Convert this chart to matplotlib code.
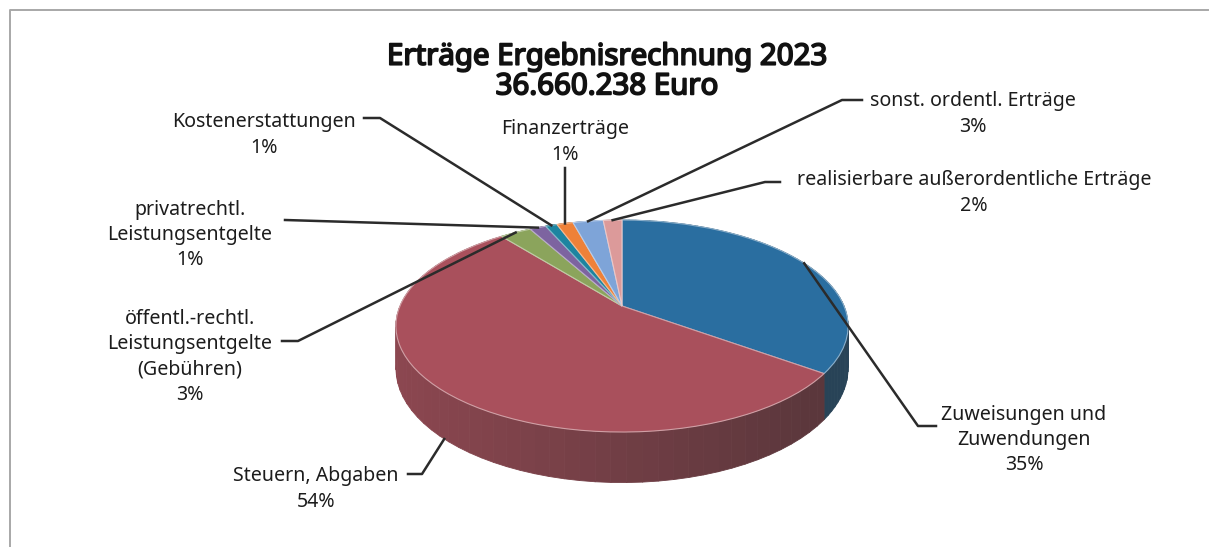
import numpy as np
import matplotlib
matplotlib.use("Agg")
import matplotlib.pyplot as plt
import matplotlib.patheffects as pe
from matplotlib.collections import PolyCollection
from matplotlib.colors import to_rgb
from matplotlib.transforms import Transform

# clockwise from 12 o'clock (legend text rounds them)
names = [
    "Zuweisungen und\nZuwendungen",
    "Steuern, Abgaben",
    "öffentl.-rechtl.\nLeistungsentgelte\n(Gebühren)",
    "privatrechtl.\nLeistungsentgelte",
    "Kostenerstattungen",
    "Finanzerträge",
    "sonst. ordentl. Erträge",
    "realisierbare außerordentliche Erträge",
]
values = [35.0, 54.3, 2.7, 1.4, 1.0, 1.4, 2.6, 1.6]
colors = ["#2a6ea0", "#a9505c", "#8ba45c", "#7d64a0", "#1d84a0", "#ee8139", "#7ea4d8", "#dc9a9a"]
title_lines = "Erträge Ergebnisrechnung 2023\n36.660.238 Euro"

# label centre, then the knee of its leader line and where the line leaves the text
label_pos = [(1024, 440), (316, 489), (190, 357), (190, 235), (264, 135), (565, 142), (973, 114), (974, 193)]
leader_start = [(936, 426), (408, 474), (282, 341), (285, 220), (364, 118), (565, 168), (862, 100), (780, 182)]
leader_knee = [(918, 426), (422, 474), (298, 341), None, (380, 118), None, (842, 100), (765, 182)]

# pie geometry in pixels, tilted disc with a little perspective
CX, CY = 622, 306
RX, RY, PERSP = 222.0, 102.2, 0.189
DEPTH = 41.0


def project(x, y):
    w = 1 + PERSP * y
    return CX + RX * x / w, CY - RY * y / w


class TiltedDisc(Transform):
    input_dims = 2
    output_dims = 2

    def transform_non_affine(self, values):
        values = np.asarray(values, dtype=float)
        px, py = project(values[:, 0], values[:, 1])
        return np.column_stack([px, py])


def shade(rgb, s):
    return tuple(c * s + 0.15 * (1 - s) for c in rgb)


plt.rcParams["font.family"] = ["Noto Sans", "DejaVu Sans"]

fig = plt.figure(figsize=(12.2, 5.47), dpi=100)
ax = fig.add_axes([0, 0, 1, 1])

wedges, _ = ax.pie(values, colors=colors, startangle=90, counterclock=False, frame=True)
ax.set_aspect("auto")
ax.set_xlim(0, 1220)
ax.set_ylim(547, 0)
ax.axis("off")

disc = TiltedDisc() + ax.transData
for w, c in zip(wedges, colors):
    w.set_transform(disc)
    w.set_zorder(3)
    w.set_edgecolor(tuple(0.55 * v + 0.45 for v in to_rgb(c)))
    w.set_linewidth(0.8)

# side wall of the cake, one thin quad per step so it can darken to the right
fractions = np.cumsum([0] + values) / sum(values)
for i, c in enumerate(colors):
    th = np.radians(np.linspace(fractions[i], fractions[i + 1], 60) * 360)
    x, y = np.sin(th), np.cos(th)
    tx, ty = project(x, y)
    by = ty + DEPTH / (1 + PERSP * y)
    quads = [
        [(tx[j], ty[j]), (tx[j + 1], ty[j + 1]), (tx[j + 1], by[j + 1]), (tx[j], by[j])]
        for j in range(len(th) - 1)
    ]
    s = np.interp(tx[:-1], [395, 620, 822], [0.78, 0.58, 0.4])
    cols = [shade(to_rgb(c), v) for v in s]
    ax.add_collection(PolyCollection(quads, facecolors=cols, edgecolors=cols, linewidths=0.6, zorder=2))

# leaders end on the rim at the middle of their slice, front slices on the wall's lower edge
for i in range(len(values)):
    mid = np.radians((fractions[i] + fractions[i + 1]) / 2 * 360)
    ex, ey = project(np.sin(mid), np.cos(mid))
    if np.cos(mid) < -0.5:
        ey += DEPTH / (1 + PERSP * np.cos(mid))
    pts = [leader_start[i]]
    if leader_knee[i] is not None:
        pts.append(leader_knee[i])
    pts.append((ex, ey))
    ax.plot(*zip(*pts), color="#2b2b2b", lw=1.8, zorder=4, solid_joinstyle="round")

for name, v, (lx, ly) in zip(names, values, label_pos):
    ax.text(lx, ly, f"{name}\n{v:.0f}%", ha="center", va="center", fontsize=14.1,
            linespacing=1.36, color="#1c1c1c", zorder=5)

ax.text(607, 72, title_lines, ha="center", va="center", fontsize=21.2, fontweight="bold",
        linespacing=1.03, color="#111111", zorder=5,
        path_effects=[pe.withStroke(linewidth=1.3, foreground="#111111")])

# chart frame from the scan
ax.plot([10, 10, 1208], [547, 10, 10], color="#a8a8a8", lw=1.4, zorder=1)

fig.savefig("out.png", dpi=100, facecolor="white")
